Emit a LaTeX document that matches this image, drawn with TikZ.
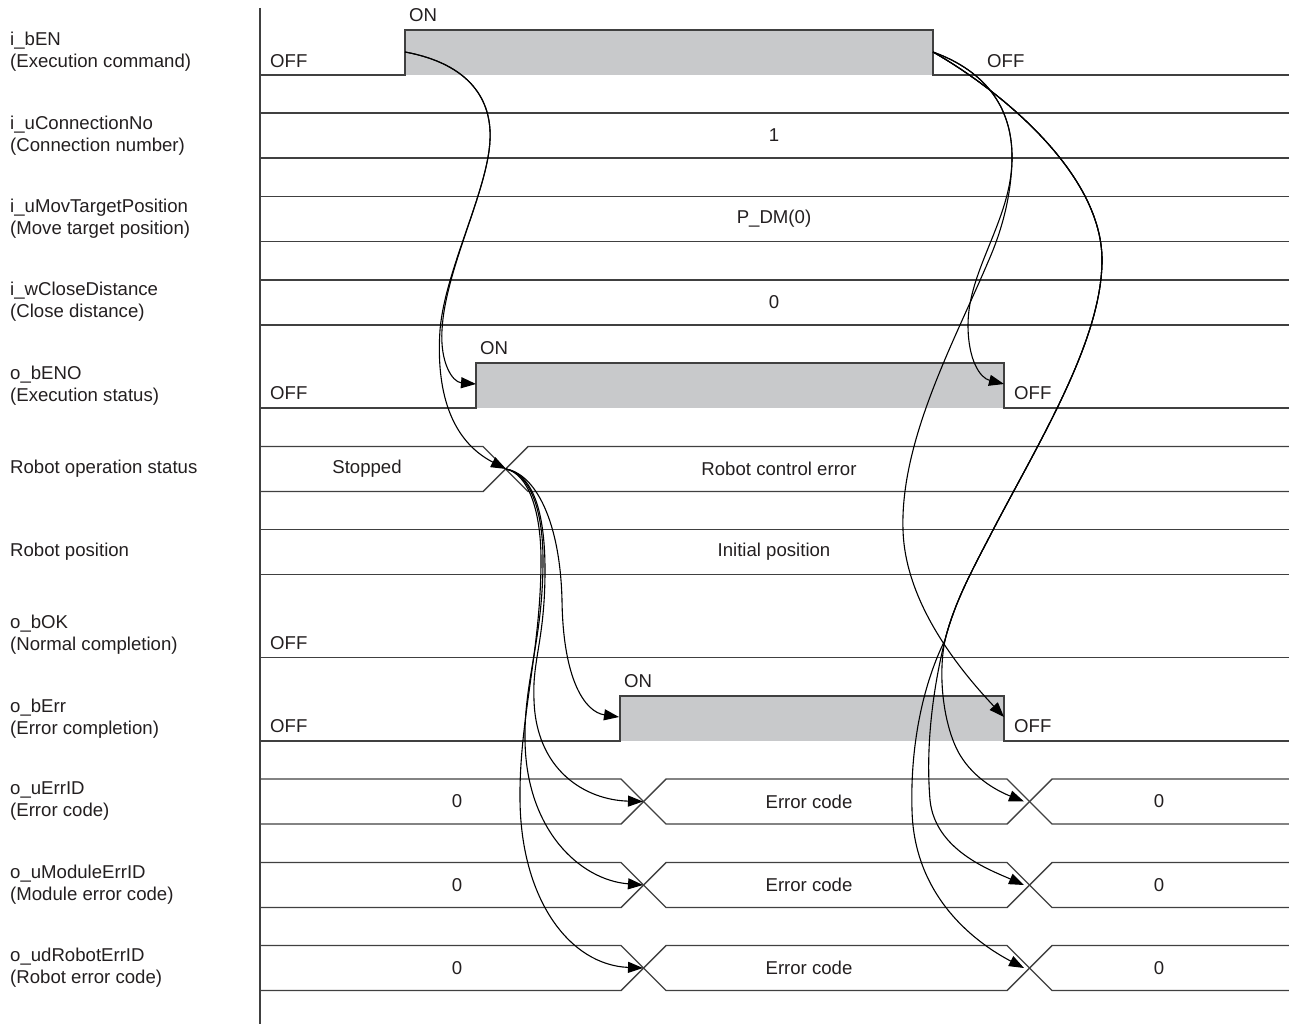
\documentclass[tikz,border=0pt]{standalone}
\usepackage{fontspec}
\setmainfont{Liberation Sans}
\usetikzlibrary{arrows.meta, positioning}
\definecolor{sigline}{RGB}{64,64,64}
\definecolor{sigfill}{RGB}{200,201,203}
\definecolor{sigtext}{RGB}{35,31,32}
\tikzset{
    siglabel/.style={anchor=west, align=left, inner sep=0pt, text=sigtext, font=\fontsize{18.6}{22}\selectfont},
    val/.style={inner sep=0pt, text=sigtext, font=\fontsize{18.6}{22}\selectfont},
    lvl/.style={anchor=west, inner sep=0pt, text=sigtext, font=\fontsize{18.6}{22}\selectfont},
    wave/.style={line width=1.4pt, draw=sigline},
    onbox/.style={fill=sigfill, draw=none},
    cause/.style={-{Triangle[length=15pt,width=11pt]}, line width=1.1pt, black}
}

\begin{document}
\begin{tikzpicture}[x=1pt, y=-1pt]
    \useasboundingbox (0,0) rectangle (1289,1025);
    \draw[wave] (260,8) -- (260,1024);

    % signal names
    \node[siglabel] (nEN)   at (10,52)    {i\_bEN\\(Execution command)};
    \node[siglabel] (nCon)  at (10,135.5) {i\_uConnectionNo\\(Connection number)};
    \node[siglabel] (nPos)  at (10,219)   {i\_uMovTargetPosition\\(Move target position)};
    \node[siglabel] (nDist) at (10,302)   {i\_wCloseDistance\\(Close distance)};
    \node[siglabel] (nENO)  at (10,385.5) {o\_bENO\\(Execution status)};
    \node[siglabel] (nSts)  at (10,469)   {Robot operation status};
    \node[siglabel] (nRPos) at (10,552)   {Robot position};
    \node[siglabel] (nOK)   at (10,635)   {o\_bOK\\(Normal completion)};
    \node[siglabel] (nErr)  at (10,718.5) {o\_bErr\\(Error completion)};
    \node[siglabel] (nID)   at (10,801.5) {o\_uErrID\\(Error code)};
    \node[siglabel] (nMod)  at (10,885)   {o\_uModuleErrID\\(Module error code)};
    \node[siglabel] (nRob)  at (10,968)   {o\_udRobotErrID\\(Robot error code)};

    % i_bEN
    \fill[onbox] (405,30) rectangle (933,75);
    \draw[wave] (260,75) -- (405,75) -- (405,30) -- (933,30) -- (933,75) -- (1289,75);
    \node[lvl] (enL)  at (270,61) {OFF};
    \node[lvl] (enH)  at (409,15) {ON};
    \node[lvl] (enR)  at (987,61) {OFF};

    % bus values
    \draw[wave] (260,113) -- (1289,113) (260,158) -- (1289,158);
    \node[val] (vCon) at (774,135.5) {1};
    \draw[wave] (260,196.5) -- (1289,196.5) (260,241.5) -- (1289,241.5);
    \node[val] (vPos) at (774,219) {P\_DM(0)};
    \draw[wave] (260,280) -- (1289,280) (260,325) -- (1289,325);
    \node[val] (vDist) at (774,302.5) {0};

    % o_bENO
    \fill[onbox] (476,363) rectangle (1004,408);
    \draw[wave] (260,408) -- (476,408) -- (476,363) -- (1004,363) -- (1004,408) -- (1289,408);
    \node[lvl] (enoL) at (270,393) {OFF};
    \node[lvl] (enoH) at (480,348) {ON};
    \node[lvl] (enoR) at (1014,393) {OFF};

    % robot status
    \draw[wave] (260,446.5) -- (483,446.5) -- (528,491.5) -- (1289,491.5);
    \draw[wave] (260,491.5) -- (483,491.5) -- (528,446.5) -- (1289,446.5);
    \node[val] (vStop) at (367,469) {Stopped};
    \node[val] (vFail) at (779,469) {Robot control error};
    \draw[wave] (260,529.5) -- (1289,529.5) (260,574.5) -- (1289,574.5);
    \node[val] (vInit) at (774,552) {Initial position};

    % o_bOK
    \draw[wave] (260,657.5) -- (1289,657.5);
    \node[lvl] (okL) at (270,643) {OFF};

    % o_bErr
    \fill[onbox] (620,696) rectangle (1004,741);
    \draw[wave] (260,741) -- (620,741) -- (620,696) -- (1004,696) -- (1004,741) -- (1289,741);
    \node[lvl] (errL) at (270,726) {OFF};
    \node[lvl] (errH) at (624,681) {ON};
    \node[lvl] (errR) at (1014,726) {OFF};

    % error codes
    \foreach \y/\nm in {779/ID, 862.5/Mod, 945.5/Rob} {
        \draw[wave] (260,\y) -- (621,\y) -- (666,\y+45) -- (1007,\y+45) -- (1052,\y) -- (1289,\y);
        \draw[wave] (260,\y+45) -- (621,\y+45) -- (666,\y) -- (1007,\y) -- (1052,\y+45) -- (1289,\y+45);
        \node[val] (z\nm) at (457,\y+22.5) {0};
        \node[val] (c\nm) at (809,\y+22.5) {Error code};
        \node[val] (r\nm) at (1159,\y+22.5) {0};
    }

    % edges
    \coordinate (enOn)   at (405,52);
    \coordinate (enOff)  at (933,52);
    \coordinate (enoOn)  at (476,384);
    \coordinate (enoOff) at (1004,384);
    \coordinate (stsX)   at (506,469);
    \coordinate (errOn)  at (619,717);
    \coordinate (errOff) at (1004,717);
    \coordinate (idA)  at (643,801.5);
    \coordinate (idB)  at (1024,801.5);
    \coordinate (modA) at (643,885);
    \coordinate (modB) at (1024,885);
    \coordinate (robA) at (643,968);
    \coordinate (robB) at (1024,968);

    % i_bEN ON
    \draw[cause] (enOn) .. controls +(65,12) and (492,100) .. (490,140)
        .. controls (488,190) and (445,270) .. (442,330)
        .. controls (440,362) and (452,382) .. (enoOn);
    \draw[cause] (enOn) .. controls +(65,12) and (492,100) .. (490,140)
        .. controls (488,190) and (445,270) .. (440,330)
        .. controls (436,390) and (450,440) .. (stsX);

    % error occurs
    \draw[cause] (stsX) .. controls +(29,5) and (560,520) .. (562,600)
        .. controls (563,680) and (585,712) .. (errOn);
    \draw[cause] (stsX) .. controls +(26,5) and (545,510) .. (545,570)
        .. controls (545,640) and (532,660) .. (534,700)
        .. controls (536,770) and (585,800) .. (idA);
    \draw[cause] (stsX) .. controls +(24,5) and (543,510) .. (543,560)
        .. controls (543,640) and (524,680) .. (525,740)
        .. controls (526,830) and (580,880) .. (modA);
    \draw[cause] (stsX) .. controls +(22,5) and (541,510) .. (541,560)
        .. controls (541,650) and (519,720) .. (520,800)
        .. controls (521,900) and (570,965) .. (robA);

    % i_bEN OFF
    \draw[cause] (enOff) .. controls +(55,20) and (1013,110) .. (1012,160)
        .. controls (1011,220) and (968,270) .. (968,325)
        .. controls (968,360) and (980,378) .. (enoOff);
    \draw[cause] (enOff) .. controls +(55,20) and (1013,110) .. (1012,160)
        .. controls (1011,200) and (1000,235) .. (988,262)
        .. controls (955,340) and (900,440) .. (903,530)
        .. controls (905,600) and (955,665) .. (errOff);
    \draw[cause] (enOff) .. controls +(60,34) and (1102,170) .. (1102,260)
        .. controls (1102,340) and (1040,440) .. (993,530)
        .. controls (975,565) and (955,600) .. (945,640)
        .. controls (937,680) and (945,730) .. (960,755)
        .. controls (975,780) and (1000,792) .. (idB);
    \draw[cause] (enOff) .. controls +(60,34) and (1102,170) .. (1102,260)
        .. controls (1102,340) and (1040,440) .. (993,530)
        .. controls (975,565) and (955,600) .. (945,640)
        .. controls (935,680) and (925,740) .. (930,800)
        .. controls (935,850) and (990,870) .. (modB);
    \draw[cause] (enOff) .. controls +(60,34) and (1102,170) .. (1102,260)
        .. controls (1102,340) and (1040,440) .. (993,530)
        .. controls (975,565) and (955,600) .. (945,640)
        .. controls (925,680) and (910,740) .. (912,810)
        .. controls (914,900) and (980,945) .. (robB);
\end{tikzpicture}
\end{document}
